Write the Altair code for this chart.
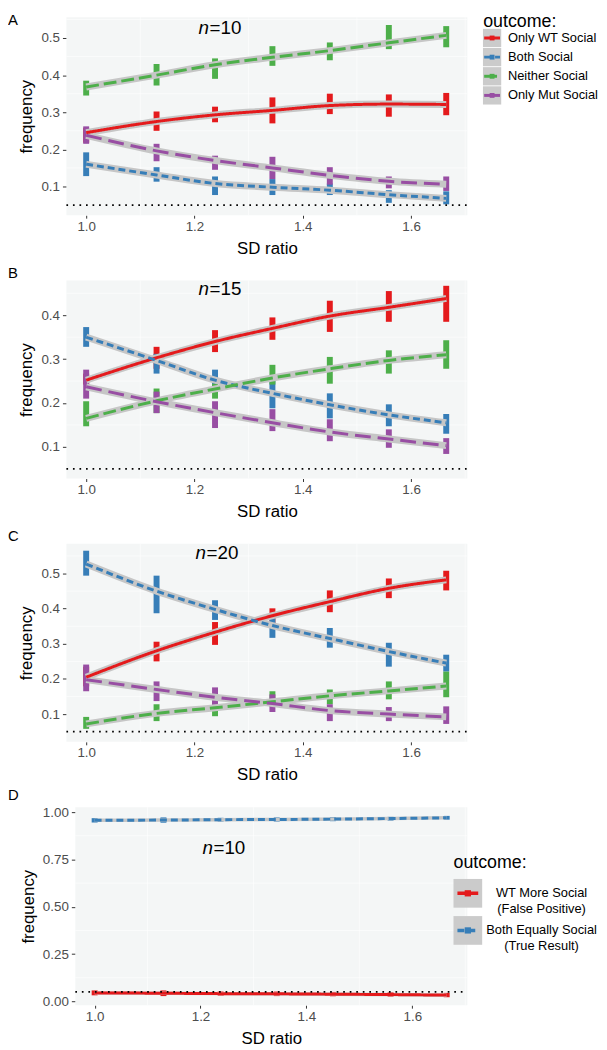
import altair as alt
import pandas as pd

FONT = "Liberation Sans"
BG = "#F4F6F6"

# ---------------- data ----------------
sd_ratio = [1.0, 1.13, 1.238, 1.344, 1.45, 1.559, 1.665]
x_ticks = [1.0, 1.2, 1.4, 1.6]
x_minor = [1.1, 1.3, 1.5, 1.7]

outcomes_abc = ["Only WT Social", "Both Social", "Neither Social", "Only Mut Social"]
colors_abc = ["#E41A1C", "#377EB8", "#4DAF4A", "#984EA3"]
dashes_abc = [[1, 0], [7, 4], [13, 5], [16, 7]]

outcomes_d = ["WT More Social (False Positive)", "Both Equally Social (True Result)"]
labels_d = ["WT More Social\n(False Positive)", "Both Equally Social\n(True Result)"]
colors_d = ["#E41A1C", "#377EB8"]
dashes_d = [[1, 0], [7, 4]]

# Panel A (n=10)
a_wt_mean = [0.245, 0.275, 0.293, 0.305, 0.318, 0.322, 0.321]
a_wt_lo = [0.218, 0.250, 0.273, 0.270, 0.295, 0.288, 0.292]
a_wt_hi = [0.258, 0.302, 0.315, 0.340, 0.350, 0.348, 0.352]
a_both_mean = [0.160, 0.131, 0.108, 0.098, 0.090, 0.078, 0.068]
a_both_lo = [0.128, 0.113, 0.077, 0.077, 0.077, 0.056, 0.052]
a_both_hi = [0.192, 0.152, 0.127, 0.120, 0.108, 0.090, 0.087]
a_neither_mean = [0.368, 0.400, 0.428, 0.448, 0.466, 0.487, 0.507]
a_neither_lo = [0.345, 0.372, 0.390, 0.425, 0.440, 0.470, 0.475]
a_neither_hi = [0.385, 0.430, 0.445, 0.478, 0.488, 0.535, 0.532]
a_mut_mean = [0.238, 0.196, 0.170, 0.150, 0.130, 0.114, 0.106]
a_mut_lo = [0.215, 0.168, 0.145, 0.120, 0.105, 0.095, 0.088]
a_mut_hi = [0.262, 0.215, 0.183, 0.180, 0.152, 0.127, 0.127]

# Panel B (n=15)
b_wt_mean = [0.252, 0.303, 0.340, 0.370, 0.398, 0.418, 0.438]
b_wt_lo = [0.242, 0.278, 0.316, 0.344, 0.362, 0.385, 0.385]
b_wt_hi = [0.267, 0.328, 0.366, 0.395, 0.433, 0.455, 0.467]
b_both_mean = [0.350, 0.297, 0.252, 0.222, 0.196, 0.173, 0.155]
b_both_lo = [0.328, 0.267, 0.238, 0.188, 0.165, 0.147, 0.130]
b_both_hi = [0.373, 0.312, 0.276, 0.260, 0.222, 0.197, 0.175]
b_neither_mean = [0.165, 0.205, 0.232, 0.257, 0.278, 0.297, 0.310]
b_neither_lo = [0.147, 0.177, 0.210, 0.242, 0.244, 0.267, 0.278]
b_neither_hi = [0.204, 0.233, 0.244, 0.287, 0.305, 0.320, 0.343]
b_mut_mean = [0.237, 0.203, 0.178, 0.155, 0.134, 0.118, 0.103]
b_mut_lo = [0.210, 0.177, 0.143, 0.136, 0.113, 0.098, 0.084]
b_mut_hi = [0.276, 0.226, 0.204, 0.186, 0.163, 0.140, 0.120]

# Panel C (n=20)
c_wt_mean = [0.205, 0.280, 0.333, 0.380, 0.420, 0.458, 0.482]
c_wt_lo = [0.179, 0.250, 0.297, 0.354, 0.390, 0.430, 0.452]
c_wt_hi = [0.235, 0.306, 0.362, 0.401, 0.452, 0.486, 0.508]
c_both_mean = [0.527, 0.450, 0.398, 0.352, 0.315, 0.278, 0.245]
c_both_lo = [0.494, 0.387, 0.368, 0.317, 0.289, 0.235, 0.221]
c_both_hi = [0.565, 0.494, 0.424, 0.373, 0.345, 0.303, 0.269]
c_neither_mean = [0.072, 0.102, 0.118, 0.135, 0.152, 0.166, 0.180]
c_neither_lo = [0.058, 0.080, 0.094, 0.122, 0.128, 0.142, 0.148]
c_neither_hi = [0.092, 0.128, 0.137, 0.165, 0.170, 0.193, 0.221]
c_mut_mean = [0.198, 0.170, 0.148, 0.130, 0.110, 0.100, 0.092]
c_mut_lo = [0.165, 0.137, 0.122, 0.106, 0.080, 0.080, 0.072]
c_mut_hi = [0.241, 0.193, 0.176, 0.156, 0.128, 0.120, 0.122]

# Panel D (n=10, two outcomes)
d_fp_mean = [0.045, 0.043, 0.041, 0.040, 0.038, 0.036, 0.033]
d_fp_lo = [0.032, 0.028, 0.030, 0.028, 0.027, 0.025, 0.022]
d_fp_hi = [0.058, 0.058, 0.052, 0.052, 0.050, 0.048, 0.045]
d_eq_mean = [0.957, 0.958, 0.960, 0.961, 0.963, 0.966, 0.970]
d_eq_lo = [0.945, 0.944, 0.950, 0.950, 0.952, 0.955, 0.960]
d_eq_hi = [0.968, 0.972, 0.970, 0.972, 0.973, 0.975, 0.980]

alpha_line = [0.05]


def build_df(outcomes, means, los, his):
    rows = []
    for o, m, l, h in zip(outcomes, means, los, his):
        for x, mv, lv, hv in zip(sd_ratio, m, l, h):
            rows.append({"outcome": o, "sd": x, "freq": mv, "lo": lv, "hi": hv})
    return pd.DataFrame(rows)


df_a = build_df(outcomes_abc, [a_wt_mean, a_both_mean, a_neither_mean, a_mut_mean],
                [a_wt_lo, a_both_lo, a_neither_lo, a_mut_lo],
                [a_wt_hi, a_both_hi, a_neither_hi, a_mut_hi])
df_b = build_df(outcomes_abc, [b_wt_mean, b_both_mean, b_neither_mean, b_mut_mean],
                [b_wt_lo, b_both_lo, b_neither_lo, b_mut_lo],
                [b_wt_hi, b_both_hi, b_neither_hi, b_mut_hi])
df_c = build_df(outcomes_abc, [c_wt_mean, c_both_mean, c_neither_mean, c_mut_mean],
                [c_wt_lo, c_both_lo, c_neither_lo, c_mut_lo],
                [c_wt_hi, c_both_hi, c_neither_hi, c_mut_hi])
df_d = build_df(outcomes_d, [d_fp_mean, d_eq_mean], [d_fp_lo, d_eq_lo], [d_fp_hi, d_eq_hi])

X_DOMAIN = [0.9635, 1.704]
W = 405
H = 200


def text_layer(txt, x, y, size, align="left", baseline="top", style="normal"):
    return alt.Chart(pd.DataFrame({"t": [txt]})).mark_text(
        align=align, baseline=baseline, fontSize=size, font=FONT, fontStyle=style, color="black"
    ).encode(x=alt.value(x), y=alt.value(y), text="t:N")


def make_panel(df, outcomes, colors, dashes, ydom, yticks, yminor, yfmt,
               letter, letter_y, nnum, n_x, n_y, band_w, left=0, legend=None):
    # `left` insets the plotting region inside the panel (panel D sits further right)
    xs = alt.Scale(domain=X_DOMAIN, nice=False, zero=False, range=[left, W])
    ys = alt.Scale(domain=ydom, nice=False, zero=False)
    xax = alt.Axis(values=x_ticks, format=".1f", title="SD ratio")
    yax = alt.Axis(values=yticks, format=yfmt, title="frequency", offset=-left)

    def X(f):
        return alt.X(f"{f}:Q", scale=xs, axis=xax)

    def Y(f):
        return alt.Y(f"{f}:Q", scale=ys, axis=yax)

    color = alt.Color("outcome:N", scale=alt.Scale(domain=outcomes, range=colors), legend=None)
    dash = alt.StrokeDash("outcome:N", scale=alt.Scale(domain=outcomes, range=dashes), legend=None)

    bg = alt.Chart(pd.DataFrame({"b": [0]})).mark_rect(color=BG).encode(
        x=alt.value(left), x2=alt.value(W), y=alt.value(0), y2=alt.value(H))
    minor_xl = alt.Chart(pd.DataFrame({"sd": x_minor})).mark_rule(
        color="white", strokeWidth=0.6).encode(x=X("sd"))
    minor_yl = alt.Chart(pd.DataFrame({"freq": yminor})).mark_rule(
        color="white", strokeWidth=0.6).encode(y=Y("freq"), x=alt.value(left), x2=alt.value(W))
    base = alt.Chart(df)
    bars = base.mark_rule(strokeWidth=6, strokeCap="butt").encode(
        x=X("sd"), y=Y("lo"), y2=alt.Y2("hi:Q"), color=color)
    band = base.mark_line(color="#C6C6C6", strokeWidth=band_w, interpolate="monotone").encode(
        x=X("sd"), y=Y("freq"), detail="outcome:N")
    line = base.mark_line(strokeWidth=3, interpolate="monotone", strokeCap="butt").encode(
        x=X("sd"), y=Y("freq"), color=color, strokeDash=dash)
    hline = alt.Chart(pd.DataFrame({"freq": alpha_line})).mark_rule(
        color="black", strokeWidth=1.7, strokeDash=[1.7, 4.9]).encode(
        y=Y("freq"), x=alt.value(left), x2=alt.value(W))

    main = alt.layer(
        bg, minor_xl, minor_yl, bars, band, line, hline,
        text_layer("n", n_x, n_y, 19, align="right", baseline="middle", style="italic"),
        text_layer("=" + nnum, n_x + 0.5, n_y, 19, align="left", baseline="middle"),
        text_layer(letter, -59, letter_y, 15),
    )
    if legend is None:
        return main.properties(width=W, height=H)
    return alt.layer(main, legend(color, dash)).resolve_scale(y="independent").properties(width=W, height=H)


def legend_a(color, dash):
    leg = pd.DataFrame({"outcome": outcomes_abc, "row": list(range(len(outcomes_abc)))})
    rowY = alt.Y("row:Q", scale=alt.Scale(domain=[0, 3], range=[21, 79]), axis=None)
    c = alt.Chart(leg)
    box = c.mark_square(size=340, color="#CBCBCB", opacity=1).encode(x=alt.value(430), y=rowY)
    ln = c.mark_rule(strokeWidth=3, strokeCap="butt").encode(
        x=alt.value(422), x2=alt.value(438), y=rowY, color=color, strokeDash=dash)
    pt = c.mark_square(size=24, opacity=1).encode(x=alt.value(430), y=rowY, color=color)
    lab = c.mark_text(align="left", baseline="middle", fontSize=13, font=FONT, color="black").encode(
        x=alt.value(446), y=rowY, text="outcome:N")
    title = text_layer("outcome:", 421, -4, 18)
    return alt.layer(box, ln, pt, lab, title)


def legend_d(color, dash):
    leg = pd.DataFrame({"outcome": outcomes_d, "label": labels_d, "row": [0, 1]})
    rowY = alt.Y("row:Q", scale=alt.Scale(domain=[0, 1], range=[87, 124.5]), axis=None)
    c = alt.Chart(leg)
    box = c.mark_square(size=841, color="#CBCBCB", opacity=1).encode(x=alt.value(405.5), y=rowY)
    ln = c.mark_rule(strokeWidth=3.5, strokeCap="butt").encode(
        x=alt.value(395), x2=alt.value(416), y=rowY, color=color, strokeDash=dash)
    pt = c.mark_square(size=40, opacity=1).encode(x=alt.value(405.5), y=rowY, color=color)
    lab = c.mark_text(align="center", baseline="middle", fontSize=13, font=FONT, color="black",
                      lineBreak="\n", lineHeight=16).encode(
        x=alt.value(480), y=rowY, text="label:N")
    title = text_layer("outcome:", 391, 47, 18)
    return alt.layer(box, ln, pt, lab, title)


pA = make_panel(df_a, outcomes_abc, colors_abc, dashes_abc, [0.0227, 0.556],
                [0.1, 0.2, 0.3, 0.4, 0.5], [0.05, 0.15, 0.25, 0.35, 0.45, 0.55], ".1f",
                "A", -4, "10", 144, 11, 7, legend=legend_a)
pB = make_panel(df_b, outcomes_abc, colors_abc, dashes_abc, [0.028, 0.479],
                [0.1, 0.2, 0.3, 0.4], [0.05, 0.15, 0.25, 0.35, 0.45], ".1f",
                "B", -15, "15", 144, 9, 7)
pC = make_panel(df_c, outcomes_abc, colors_abc, dashes_abc, [0.021, 0.5845],
                [0.1, 0.2, 0.3, 0.4, 0.5], [0.05, 0.15, 0.25, 0.35, 0.45, 0.55], ".1f",
                "C", -15, "20", 141, 9, 7)
pD = make_panel(df_d, outcomes_d, colors_d, dashes_d, [-0.02, 1.026],
                [0.0, 0.25, 0.5, 0.75, 1.0], [0.125, 0.375, 0.625, 0.875], ".2f",
                "D", -19, "10", 148, 41, 3.5, left=9, legend=legend_d)

chart = alt.vconcat(pA, pB, pC, pD, spacing=66, bounds="flush").resolve_scale(
    color="independent", strokeDash="independent", x="independent", y="independent"
).properties(padding=0).configure_view(
    stroke=None, fill=None
).configure_axis(
    labelFont=FONT, labelFontSize=13.5, labelColor="#4D4D4D",
    titleFont=FONT, titleFontSize=17, titleFontWeight="normal", titleColor="black",
    tickColor="#333333", tickWidth=1, domain=False,
    gridColor="white", gridWidth=1.1,
).configure_axisX(
    tickSize=3, labelPadding=1, titlePadding=8
).configure_axisY(
    tickSize=4, labelPadding=3, titlePadding=5
)

chart.save("out.html", embed_options={"renderer": "svg", "actions": False})
